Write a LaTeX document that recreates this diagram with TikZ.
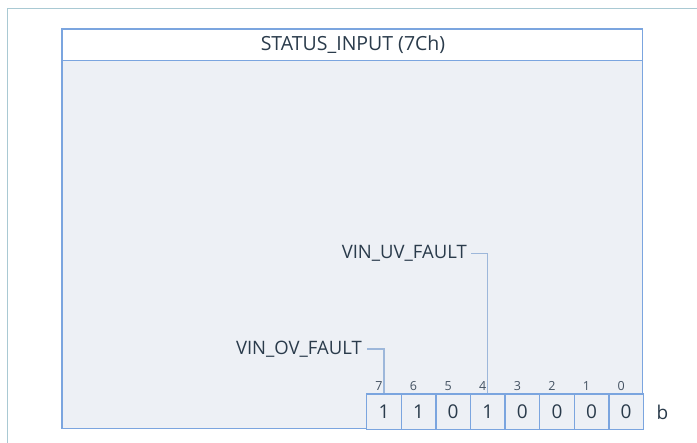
\documentclass[tikz,border=0pt]{standalone}
\usepackage{fontspec}
\usetikzlibrary{calc}
\setmainfont{Open Sans}
\definecolor{frame}{HTML}{A9C9D3}
\definecolor{boxline}{HTML}{7BA5DF}
\definecolor{bodyfill}{HTML}{EDF0F5}
\definecolor{txt}{HTML}{2A3B4B}
\definecolor{lead}{HTML}{9DB7DA}
\definecolor{bitnum}{HTML}{445262}
\tikzset{
  cell/.style={draw=boxline, line width=1.3pt, fill=bodyfill, minimum width=34.6pt, minimum height=35.4pt, inner sep=0pt, anchor=north west, text=txt, font=\fontsize{19}{22}\selectfont},
  bitlabel/.style={text=bitnum, font=\fontsize{12.5}{14}\selectfont, inner sep=0pt},
  fieldlabel/.style={text=txt, font=\fontsize{18.5}{22}\selectfont, inner sep=0pt, anchor=east},
  leader/.style={draw=lead, line width=1.3pt},
}
\begin{document}
\begin{tikzpicture}[x=1pt,y=1pt]
\useasboundingbox (0,0) rectangle (697,-443);
% outer frame
\draw[frame, line width=1.5pt] (7.5,-443) -- (7.5,-8.5) -- (697,-8.5);
% register box
\fill[white] (62,-29) rectangle (642.7,-60.5);
\fill[bodyfill] (62,-60.5) rectangle (642.7,-428.7);
\draw[boxline, line width=1.3pt] (62,-29) rectangle (642.7,-428.7);
\draw[boxline, line width=1.3pt] (62,-60.5) -- (642.7,-60.5);
\node[text=txt, font=\fontsize{19.5}{22}\selectfont] (title) at (353,-45) {STATUS\_INPUT (7Ch)};
% cells
\foreach \v [count=\i from 0] in {1,1,0,1,0,0,0,0} {
  \pgfmathtruncatemacro{\b}{7-\i}
  \node[cell] (c\b) at (366+\i*34.6,-393.3) {\v};
  \node[bitlabel] (n\b) at ($(c\b.north)+(-5,7)$) {\b};
}
\node[text=txt, font=\fontsize{19}{22}\selectfont, anchor=west] (unit) at (653,-412) {b};
% field labels
\node[fieldlabel] (ov) at (362,-349) {VIN\_OV\_FAULT};
\node[fieldlabel] (uv) at (467,-253.3) {VIN\_UV\_FAULT};
\draw[leader] ([xshift=5pt]ov.east) -| (c7.north);
\draw[leader] ([xshift=4pt]uv.east) -| (c4.north);
\end{tikzpicture}
\end{document}
